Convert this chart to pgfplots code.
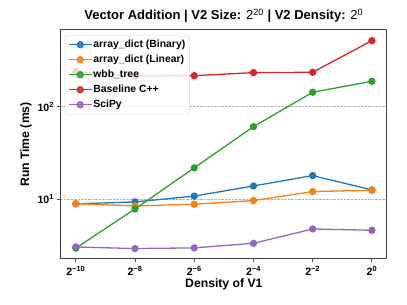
\documentclass[border=0pt]{standalone}
\usepackage{pgfplots}
\pgfplotsset{compat=1.18}
\usepackage{fontspec}
\setmainfont{Liberation Sans}
\definecolor{tabblue}{HTML}{1F77B4}
\definecolor{taborange}{HTML}{FF7F0E}
\definecolor{tabgreen}{HTML}{2CA02C}
\definecolor{tabred}{HTML}{D62728}
\definecolor{tabpurple}{HTML}{9467BD}
\begin{document}
\begin{tikzpicture}[x=1pt,y=1pt]
\useasboundingbox (0,0) rectangle (407,305);
\begin{axis}[
  at={(61pt,46pt)}, anchor=south west,
  scale only axis, width=325.7pt, height=229pt,
  ymode=log, log basis y=10,
  xmin=-10.5, xmax=0.5, ymin=2.26, ymax=673,
  xtick={-10,-8,-6,-4,-2,0},
  xticklabels={\textbf{2\textsuperscript{−10}},\textbf{2\textsuperscript{−8}},\textbf{2\textsuperscript{−6}},\textbf{2\textsuperscript{−4}},\textbf{2\textsuperscript{−2}},\textbf{2\textsuperscript{0}}},
  ytick={10,100},
  yticklabels={\textbf{10\textsuperscript{1}},\textbf{10\textsuperscript{2}}},
  tick label style={font=\fontsize{10.6}{12}\selectfont},
  tick align=outside, tick pos=left,
  major tick length=3.5pt, minor tick length=2pt,
  every tick/.style={black!70, line width=0.8pt},
  axis line style={black!75, line width=1pt},
  ymajorgrids, major grid style={gray!60, densely dotted, line width=0.5pt},
  title={\textbf{Vector Addition | V2 Size: }2\textsuperscript{20}\textbf{ | V2 Density: }2\textsuperscript{0}},
  title style={font=\fontsize{13}{15}\selectfont, at={(0.5,1)}, anchor=base, yshift=4.5pt},
  xlabel={\textbf{Density of V1}},
  ylabel={\textbf{Run Time (ms)}},
  label style={font=\fontsize{12.2}{14}\selectfont},
  xlabel style={yshift=3pt},
  ylabel style={yshift=-1pt},
  every axis plot/.append style={line width=1.3pt, mark=*, mark size=3pt},
  legend style={at={(0.012,0.978)}, anchor=north west, fill=white, fill opacity=0.8, text opacity=1, draw=gray!30, rounded corners=2pt, font=\fontsize{10.4}{12}\selectfont\bfseries, nodes={inner sep=1pt, text height=8pt, text depth=3pt}, row sep=2pt, inner sep=3pt},
  legend cell align=left,
  /tikz/every even column/.append style={column sep=9pt},
  legend image code/.code={\draw[mark repeat=2,mark phase=2] plot coordinates {(0pt,0pt)(11.5pt,0pt)(23pt,0pt)};},
]
\addplot[tabblue] coordinates {(-10,8.9) (-8,9.35) (-6,10.8) (-4,13.9) (-2,18.0) (0,12.6)};
\addlegendentry{array\_dict (Binary)}
\addplot[taborange] coordinates {(-10,8.95) (-8,8.47) (-6,8.83) (-4,9.66) (-2,12.1) (0,12.5)};
\addlegendentry{array\_dict (Linear)}
\addplot[tabgreen] coordinates {(-10,2.96) (-8,7.85) (-6,21.8) (-4,60.8) (-2,143) (0,188)};
\addlegendentry{wbb\_tree}
\addplot[tabred] coordinates {(-10,239) (-8,214) (-6,216) (-4,233) (-2,235) (0,516)};
\addlegendentry{Baseline C++}
\addplot[tabpurple] coordinates {(-10,3.05) (-8,2.93) (-6,2.98) (-4,3.34) (-2,4.77) (0,4.62)};
\addlegendentry{SciPy}
\end{axis}
\end{tikzpicture}
\end{document}
